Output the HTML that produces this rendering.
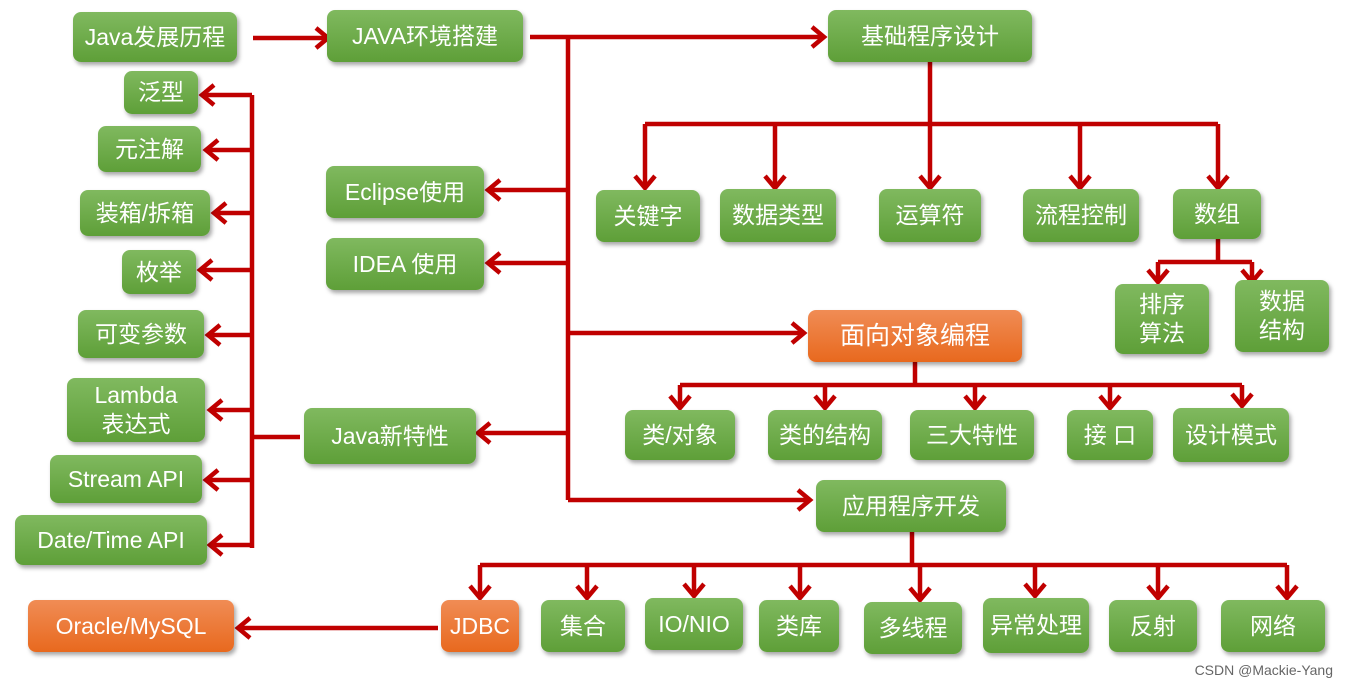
<!DOCTYPE html>
<html><head><meta charset="utf-8"><style>
body{margin:0;width:1349px;height:688px;background:#fff;position:relative;overflow:hidden;font-family:"Liberation Sans","Noto Sans CJK SC",sans-serif}
.b{position:absolute;box-sizing:border-box;border-radius:8px;background:linear-gradient(#80b95f,#5e9f38);color:#fff;font-size:23px;display:flex;align-items:center;justify-content:center;text-align:center;line-height:29px;box-shadow:2px 3px 4px rgba(0,0,0,.35)}
.o{background:linear-gradient(#f08c55,#e8691e)}
svg{position:absolute;left:0;top:0}
.w{position:absolute;right:16px;bottom:10px;font-size:14px;color:#666}
</style></head><body>
<svg width="1349" height="688" fill="none" stroke="#c00000" stroke-width="4.5">
<path d="M253 38H328M530 37H568V500M568 37H824M568 190H488M568 263H488M568 333H804M568 433H478M568 500H810"/>
<path d="M930 62V124M645 124H1218M645 124V188M775 124V188M930 124V188M1080 124V188M1218 124V188"/>
<path d="M1218 239V262M1158 262H1252M1158 262V282M1252 262V282"/>
<path d="M915 362V385M680 385H1242M680 385V408M825 385V408M975 385V408M1110 385V408M1242 385V406"/>
<path d="M912 532V565M480 565H1287M480 565V598M587 565V598M694 565V596M800 565V598M920 565V600M1035 565V596M1158 565V598M1287 565V598"/>
<path d="M438 628H238M300 437H252M252 95V548M252 95H202M252 150H206M252 213H214M252 270H200M252 335H208M252 410H210M252 480H206M252 545H210"/>
<g stroke-linejoin="miter">
<polyline points="316,28 328,38 316,48"/><polyline points="812,27 824,37 812,47"/><polyline points="792,323 804,333 792,343"/><polyline points="798,490 810,500 798,510"/>
<polyline points="500,180 488,190 500,200"/><polyline points="500,253 488,263 500,273"/><polyline points="490,423 478,433 490,443"/>
<polyline points="250,618 238,628 250,638"/>
<polyline points="214,85 202,95 214,105"/><polyline points="218,140 206,150 218,160"/><polyline points="226,203 214,213 226,223"/><polyline points="212,260 200,270 212,280"/><polyline points="220,325 208,335 220,345"/><polyline points="222,400 210,410 222,420"/><polyline points="218,470 206,480 218,490"/><polyline points="222,535 210,545 222,555"/>
<polyline points="635,176 645,188 655,176"/><polyline points="765,176 775,188 785,176"/><polyline points="920,176 930,188 940,176"/><polyline points="1070,176 1080,188 1090,176"/><polyline points="1208,176 1218,188 1228,176"/>
<polyline points="1148,270 1158,282 1168,270"/><polyline points="1242,270 1252,282 1262,270"/>
<polyline points="670,396 680,408 690,396"/><polyline points="815,396 825,408 835,396"/><polyline points="965,396 975,408 985,396"/><polyline points="1100,396 1110,408 1120,396"/><polyline points="1232,394 1242,406 1252,394"/>
<polyline points="470,586 480,598 490,586"/><polyline points="577,586 587,598 597,586"/><polyline points="684,584 694,596 704,584"/><polyline points="790,586 800,598 810,586"/><polyline points="910,588 920,600 930,588"/><polyline points="1025,584 1035,596 1045,584"/><polyline points="1148,586 1158,598 1168,586"/><polyline points="1277,586 1287,598 1297,586"/>
</g></svg>
<div class="b" style="left:73px;top:12px;width:164px;height:50px">Java发展历程</div>
<div class="b" style="left:327px;top:10px;width:196px;height:52px">JAVA环境搭建</div>
<div class="b" style="left:828px;top:10px;width:204px;height:52px">基础程序设计</div>
<div class="b" style="left:124px;top:71px;width:74px;height:43px">泛型</div>
<div class="b" style="left:98px;top:126px;width:103px;height:46px">元注解</div>
<div class="b" style="left:80px;top:190px;width:130px;height:46px">装箱/拆箱</div>
<div class="b" style="left:122px;top:250px;width:74px;height:44px">枚举</div>
<div class="b" style="left:78px;top:310px;width:126px;height:48px">可变参数</div>
<div class="b" style="left:67px;top:378px;width:138px;height:64px">Lambda<br>表达式</div>
<div class="b" style="left:50px;top:455px;width:152px;height:48px">Stream API</div>
<div class="b" style="left:15px;top:515px;width:192px;height:50px">Date/Time API</div>
<div class="b" style="left:326px;top:166px;width:158px;height:52px">Eclipse使用</div>
<div class="b" style="left:326px;top:238px;width:158px;height:52px">IDEA 使用</div>
<div class="b" style="left:304px;top:408px;width:172px;height:56px">Java新特性</div>
<div class="b" style="left:596px;top:190px;width:104px;height:52px">关键字</div>
<div class="b" style="left:720px;top:189px;width:116px;height:53px">数据类型</div>
<div class="b" style="left:879px;top:189px;width:102px;height:53px">运算符</div>
<div class="b" style="left:1023px;top:189px;width:116px;height:53px">流程控制</div>
<div class="b" style="left:1173px;top:189px;width:88px;height:50px">数组</div>
<div class="b" style="left:1115px;top:284px;width:94px;height:70px">排序<br>算法</div>
<div class="b" style="left:1235px;top:280px;width:94px;height:72px">数据<br>结构</div>
<div class="b o" style="left:808px;top:310px;width:214px;height:52px;font-size:25px">面向对象编程</div>
<div class="b" style="left:625px;top:410px;width:110px;height:50px">类/对象</div>
<div class="b" style="left:768px;top:410px;width:114px;height:50px">类的结构</div>
<div class="b" style="left:910px;top:410px;width:124px;height:50px">三大特性</div>
<div class="b" style="left:1067px;top:410px;width:86px;height:50px">接 口</div>
<div class="b" style="left:1173px;top:408px;width:116px;height:54px">设计模式</div>
<div class="b" style="left:816px;top:480px;width:190px;height:52px">应用程序开发</div>
<div class="b o" style="left:28px;top:600px;width:206px;height:52px">Oracle/MySQL</div>
<div class="b o" style="left:441px;top:600px;width:78px;height:52px">JDBC</div>
<div class="b" style="left:541px;top:600px;width:84px;height:52px">集合</div>
<div class="b" style="left:645px;top:598px;width:98px;height:52px">IO/NIO</div>
<div class="b" style="left:759px;top:600px;width:80px;height:52px">类库</div>
<div class="b" style="left:864px;top:602px;width:98px;height:52px">多线程</div>
<div class="b" style="left:983px;top:598px;width:106px;height:55px">异常处理</div>
<div class="b" style="left:1109px;top:600px;width:88px;height:52px">反射</div>
<div class="b" style="left:1221px;top:600px;width:104px;height:52px">网络</div>
<div class="w">CSDN @Mackie-Yang</div>
</body></html>
